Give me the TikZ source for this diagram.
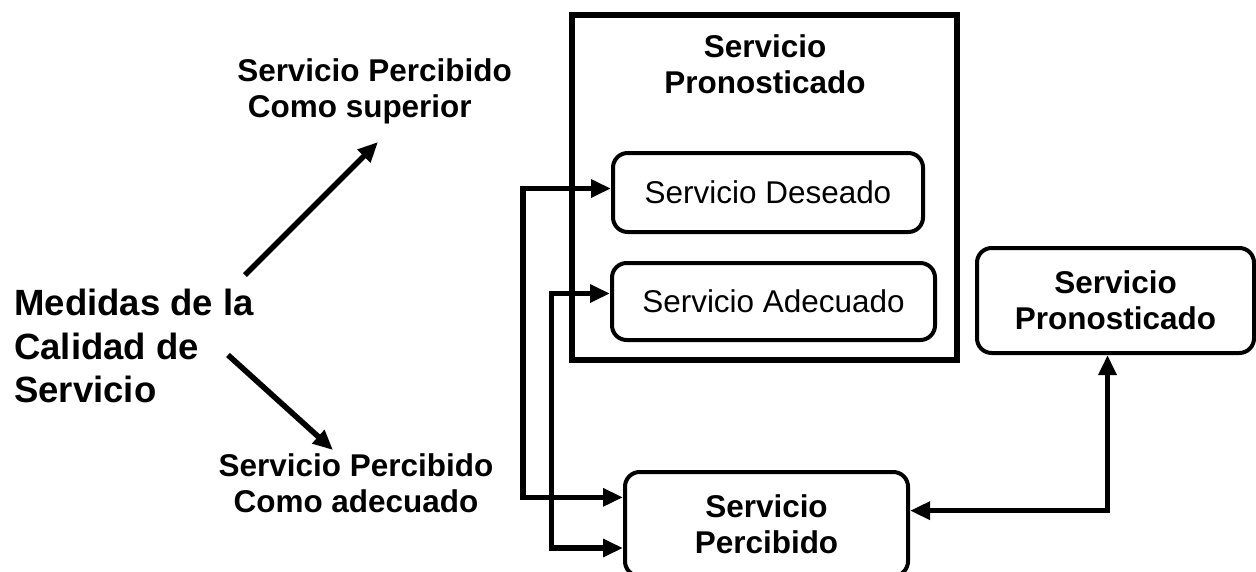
\documentclass[tikz,border=0pt]{standalone}
\usepackage{fontspec}
\setmainfont{Liberation Sans}
\usetikzlibrary{arrows.meta}

\tikzset{
  caja/.style={draw,line width=3pt,rounded corners=11pt,align=center,inner sep=0pt},
  marco/.style={draw,line width=4.5pt,inner sep=0pt},
  flecha/.style={line width=4.2pt,-{Triangle[length=15pt,width=13pt]}},
  doble/.style={line width=4.2pt,{Triangle[length=15pt,width=13pt]}-{Triangle[length=15pt,width=13pt]}},
  negrita/.style={font=\fontsize{23.6}{27}\selectfont\bfseries,align=center,inner sep=0pt},
  normal/.style={font=\fontsize{23.6}{27}\selectfont},
}

\begin{document}
\begin{tikzpicture}[x=0.75pt,y=-0.75pt]
  \useasboundingbox (0,0) rectangle (1256,571);

  % Left labels.
  \node[font=\fontsize{27.4}{32.3}\selectfont\bfseries,align=left,inner sep=0pt,anchor=west] (medidas) at (14,346) {Medidas de la\\Calidad de\\Servicio};
  \node[negrita,align=left,anchor=west] (superior) at (237,91) {Servicio Percibido\\\hspace*{8pt}Como superior};
  \node[negrita] (adecuado) at (356,483) {Servicio Percibido\\Como adecuado};

  \coordinate (s1) at (245,275);
  \coordinate (s2) at (378,142);
  \coordinate (a1) at (228,355);
  \coordinate (a2) at (333,450);
  \draw[flecha] (s1) -- (s2);
  \draw[flecha] (a1) -- (a2);

  % Forecast frame.
  \node[marco,minimum width=288.75pt,minimum height=258.75pt] (marco) at (764.5,187.5) {};
  \node[negrita] (titulo) at (765,64) {Servicio\\Pronosticado};
  \node[caja,normal,minimum width=232.5pt,minimum height=59.25pt] (des) at (768,192.5) {Servicio Deseado};
  \node[caja,normal,minimum width=242.25pt,minimum height=57.75pt] (ade) at (773.5,301.5) {Servicio Adecuado};

  \node[caja,negrita,minimum width=212.25pt,minimum height=78pt] (per) at (766.5,524) {Servicio\\Percibido};
  \node[caja,negrita,minimum width=207.75pt,minimum height=78.75pt] (pro) at (1115.5,300.5) {Servicio\\Pronosticado};

  % Loops into the perceived box.
  \draw[doble] ([yshift=3pt]des.west) -- ++(-66pt,0) |- ([yshift=20pt]per.west);
  \draw[doble] ([yshift=6pt]ade.west) -- ++(-44pt,0) |- ([yshift=-18pt]per.west);
  \draw[doble] ([xshift=-6pt]pro.south) |- ([yshift=10pt]per.east);
\end{tikzpicture}
\end{document}
